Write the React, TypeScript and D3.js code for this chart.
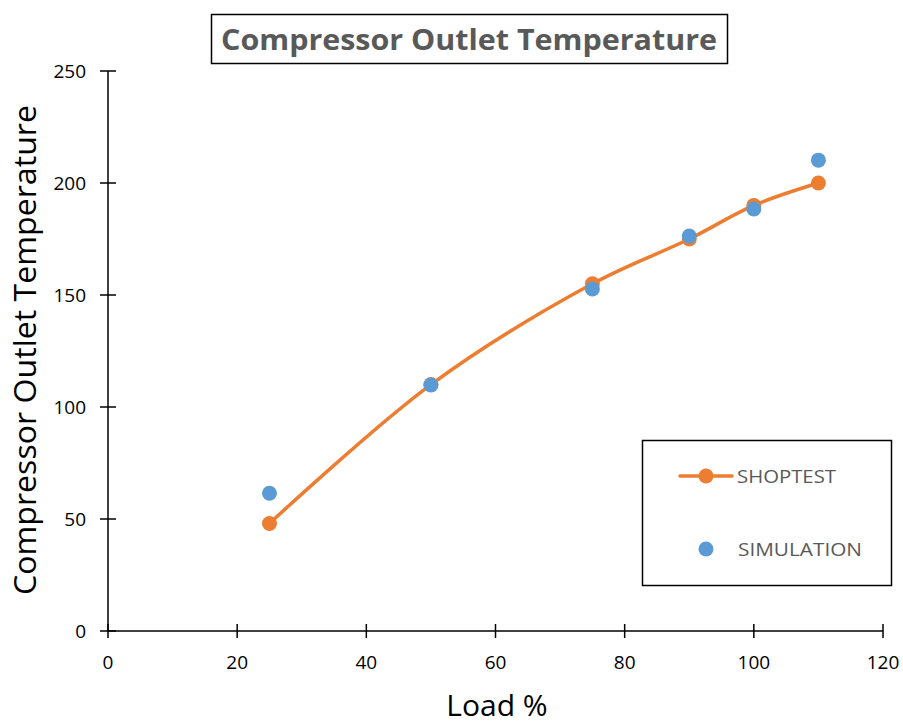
import React from "react";
import * as d3 from "d3";

const loads = [25, 50, 75, 90, 100, 110];
const shoptest = [48, 110, 155, 175, 190, 200];
const simulation = [61.5, 109.8, 152.7, 176.3, 188.4, 210.2];
const xTicks = [0, 20, 40, 60, 80, 100, 120];
const yTicks = [0, 50, 100, 150, 200, 250];

const W = 903;
const H = 724;
const FONT = "'Open Sans', 'Liberation Sans', sans-serif";

export default function App() {
  const x = d3.scaleLinear().domain([0, 120]).range([108, 883]);
  const y = d3.scaleLinear().domain([0, 250]).range([631, 71]);
  const pts: [number, number][] = loads.map((l, i) => [x(l), y(shoptest[i])]);
  const line = d3.line().curve(d3.curveCatmullRom.alpha(0.5))(pts) || "";
  const orange = "#ED7D31";
  const blue = "#5B9BD5";
  return (
    <svg width={W} height={H} style={{ position: "absolute", left: 0, top: 0, background: "#fff" }}>
      <rect x={0} y={0} width={W} height={H} fill="#fff" />
      {/* Title */}
      <rect x={211.5} y={14.5} width={516} height={49} fill="#fff" stroke="#000" strokeWidth={1.5} />
      <text x={469} y={50} textAnchor="middle" fontFamily={FONT} fontWeight="bold" fontSize={28} fill="#595959" textLength={496} lengthAdjust="spacingAndGlyphs">
        Compressor Outlet Temperature
      </text>
      {/* Y axis */}
      <line x1={x(0)} x2={x(0)} y1={y(250)} y2={y(0)} stroke="#000" strokeWidth={1.5} />
      {yTicks.map((t) => (
        <g key={t}>
          <line x1={x(0) - 8} x2={x(0) + 8} y1={y(t)} y2={y(t)} stroke="#000" strokeWidth={1.5} />
          <text x={86} y={y(t) + 7} textAnchor="end" fontFamily={FONT} fontSize={19} fill="#000">{t}</text>
        </g>
      ))}
      {/* X axis */}
      <line x1={x(0)} x2={x(120)} y1={y(0)} y2={y(0)} stroke="#000" strokeWidth={1.5} />
      {xTicks.map((t) => (
        <g key={t}>
          <line x1={x(t)} x2={x(t)} y1={y(0) - 7} y2={y(0) + 7} stroke="#000" strokeWidth={1.5} />
          <text x={x(t)} y={669} textAnchor="middle" fontFamily={FONT} fontSize={19} fill="#000">{t}</text>
        </g>
      ))}
      {/* Axis titles */}
      <text x={497} y={716} textAnchor="middle" fontFamily={FONT} fontSize={30} fill="#000">Load %</text>
      <text transform={`translate(36,350) rotate(-90)`} textAnchor="middle" fontFamily={FONT} fontSize={31} fill="#000" textLength={490} lengthAdjust="spacingAndGlyphs">
        Compressor Outlet Temperature
      </text>
      {/* Series */}
      <path d={line} fill="none" stroke={orange} strokeWidth={3.5} strokeLinecap="round" />
      {pts.map((p, i) => (
        <circle key={"o" + i} cx={p[0]} cy={p[1]} r={7.5} fill={orange} />
      ))}
      {loads.map((l, i) => (
        <circle key={"b" + i} cx={x(l)} cy={y(simulation[i])} r={7.5} fill={blue} />
      ))}
      {/* Legend */}
      <rect x={642.5} y={440.5} width={249} height={145} fill="#fff" stroke="#000" strokeWidth={1.5} />
      <line x1={680} x2={732} y1={476} y2={476} stroke={orange} strokeWidth={3.5} strokeLinecap="round" />
      <circle cx={706} cy={476} r={7.5} fill={orange} />
      <text x={737} y={483} fontFamily={FONT} fontSize={19} fill="#595959" textLength={99} lengthAdjust="spacingAndGlyphs">SHOPTEST</text>
      <circle cx={706} cy={549} r={7.5} fill={blue} />
      <text x={738} y={556} fontFamily={FONT} fontSize={19} fill="#595959" textLength={124} lengthAdjust="spacingAndGlyphs">SIMULATION</text>
    </svg>
  );
}
